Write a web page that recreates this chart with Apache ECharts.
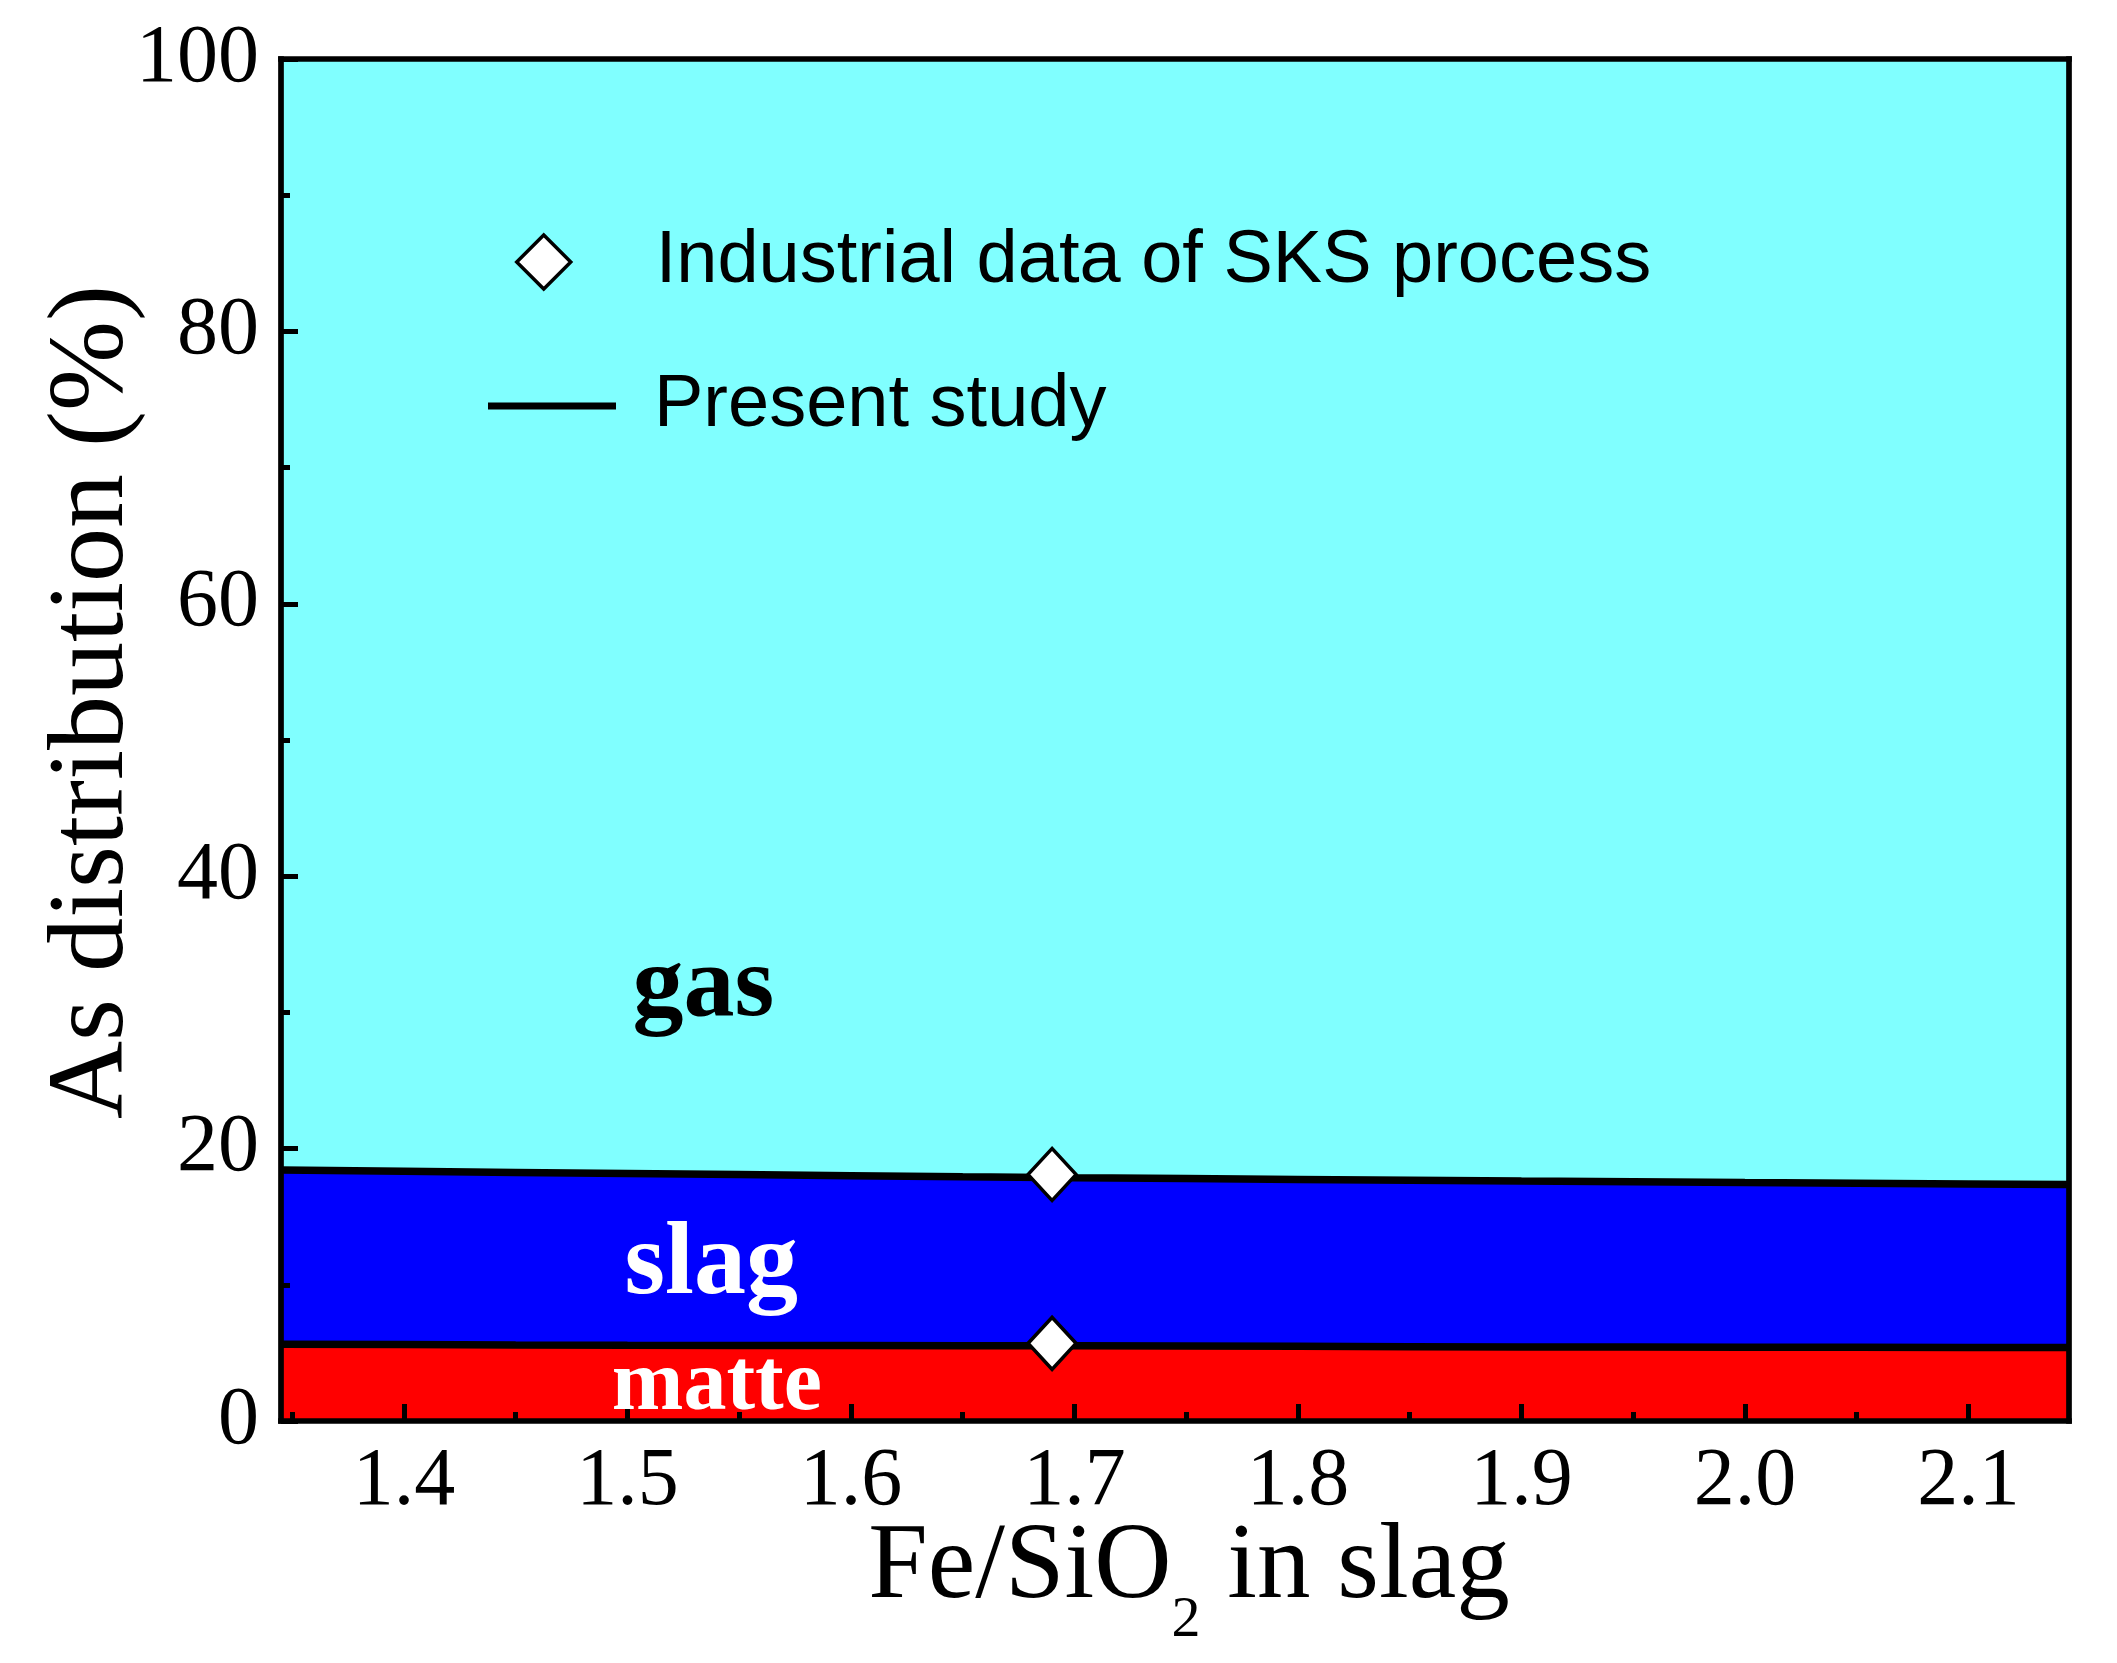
<!DOCTYPE html>
<html>
<head>
<meta charset="utf-8">
<script src="https://cdn.jsdelivr.net/npm/echarts@6/dist/echarts.min.js"></script>
<style>
html,body{margin:0;padding:0;background:#fff;}
#c{width:2117px;height:1663px;}
</style>
</head>
<body>
<div id="c"></div>
<script>
// ---- data (upper boundary of each phase region, cumulative %) ----
const feSiO2      = [1.345, 1.40, 1.45, 1.50, 1.55, 1.60, 1.65, 1.70, 1.75, 1.80, 1.85, 1.90, 1.95, 2.00, 2.05, 2.10, 2.145];
const matteUpper  = [5.64, 5.61, 5.58, 5.56, 5.55, 5.54, 5.53, 5.52, 5.50, 5.48, 5.46, 5.44, 5.43, 5.42, 5.41, 5.40, 5.40];
const slagUpper   = [18.42, 18.33, 18.25, 18.17, 18.09, 18.01, 17.93, 17.86, 17.80, 17.74, 17.68, 17.62, 17.57, 17.51, 17.46, 17.41, 17.37];
const gasUpper    = [100, 100, 100, 100, 100, 100, 100, 100, 100, 100, 100, 100, 100, 100, 100, 100, 100];
const industrialX   = [1.69, 1.69];
const industrialCum = [5.7, 18.1];
const xMajorTicks = [1.4, 1.5, 1.6, 1.7, 1.8, 1.9, 2.0, 2.1];
const xMinorTicks = [1.35, 1.45, 1.55, 1.65, 1.75, 1.85, 1.95, 2.05];
const xRange = [1.345, 2.145];
const yRange = [0, 100];
const yStep = 20;
const phaseNames = ['matte', 'slag', 'gas'];
const legendNames = ['Industrial data of SKS process', 'Present study'];

const zip = (xs, ys) => xs.map((x, i) => [x, ys[i]]);

const SERIF = '"Liberation Serif","Times New Roman",serif';
const SANS = '"Liberation Sans",Arial,sans-serif';
const AXW = 5.7;

const chart = echarts.init(document.getElementById('c'));

const frameAxis = (pos, range) => ({
  type: 'value', position: pos, min: range[0], max: range[1], z: 10,
  axisLine: {show: true, onZero: false, lineStyle: {color: '#000', width: AXW, cap: 'square'}},
  axisTick: {show: false}, axisLabel: {show: false}, splitLine: {show: false}
});

const option = {
  animation: false,
  backgroundColor: '#fff',
  grid: {left: 281, right: 48, top: 59, bottom: 242, containLabel: false},
  xAxis: [
    {
      type: 'value', position: 'bottom', min: xRange[0], max: xRange[1], z: 10,
      axisLine: {show: true, onZero: false, lineStyle: {color: '#000', width: AXW, cap: 'square'}},
      axisTick: {show: true, inside: true, length: 17, customValues: xMajorTicks, lineStyle: {color: '#000', width: 5}},
      axisLabel: {show: true, customValues: xMajorTicks, formatter: v => v.toFixed(1),
        fontSize: 82, lineHeight: 82, fontFamily: SERIF, color: '#000', margin: 20},
      splitLine: {show: false},
      name: '{a|Fe/SiO}{b|2}{a| in slag}',
      nameLocation: 'middle', nameGap: 94, nameMoveOverlap: false,
      nameTextStyle: {
        padding: [0, 0, 0, 28],
        rich: {
          a: {fontSize: 107, fontFamily: SERIF, color: '#000', lineHeight: 120, verticalAlign: 'top'},
          b: {fontSize: 58, fontFamily: SERIF, color: '#000', lineHeight: 135, verticalAlign: 'bottom'}
        }
      }
    },
    {
      type: 'value', position: 'bottom', min: xRange[0], max: xRange[1], z: 10,
      axisLine: {show: false, onZero: false},
      axisTick: {show: true, inside: true, length: 9, customValues: xMinorTicks, lineStyle: {color: '#000', width: 5}},
      axisLabel: {show: false}, splitLine: {show: false}
    },
    frameAxis('top', xRange)
  ],
  yAxis: [
    {
      type: 'value', position: 'left', min: yRange[0], max: yRange[1], interval: yStep, z: 10,
      axisLine: {show: true, onZero: false, lineStyle: {color: '#000', width: AXW, cap: 'square'}},
      axisTick: {show: true, inside: true, length: 17, lineStyle: {color: '#000', width: 5}},
      minorTick: {show: true, splitNumber: 2, length: 9, lineStyle: {color: '#000', width: 5}},
      axisLabel: {fontSize: 82, lineHeight: 82, fontFamily: SERIF, color: '#000', margin: 22},
      splitLine: {show: false},
      name: 'As distribution (%)',
      nameLocation: 'middle', nameGap: 133, nameMoveOverlap: false,
      nameTextStyle: {fontSize: 108, lineHeight: 108, fontFamily: SERIF, color: '#000', padding: [0, 0, 0, 76]}
    },
    frameAxis('right', yRange)
  ],
  legend: [
    {
      data: [{name: legendNames[0], icon: 'diamond'}],
      left: 515, top: 222, padding: 0, orient: 'vertical', selectedMode: false,
      itemWidth: 54, itemHeight: 54,
      itemStyle: {color: '#fff', borderColor: '#000', borderWidth: 3.5},
      textStyle: {fontSize: 74, lineHeight: 80, fontFamily: SANS, color: '#000', padding: [0, 0, 0, 80]}
    },
    {
      data: [{name: legendNames[1], icon: 'path://M0,0L128,0L128,7L0,7Z'}],
      left: 488, top: 366, padding: 0, orient: 'vertical', selectedMode: false,
      itemWidth: 128, itemHeight: 7,
      itemStyle: {color: '#000', borderWidth: 0},
      lineStyle: {color: '#000', width: 0},
      textStyle: {fontSize: 74, lineHeight: 80, fontFamily: SANS, color: '#000', padding: [0, 0, 0, 33]}
    }
  ],
  series: [
    {
      name: phaseNames[2], type: 'line', z: 1,
      data: zip(feSiO2, gasUpper), symbol: 'none', showSymbol: false,
      lineStyle: {width: 0, opacity: 0},
      areaStyle: {color: '#80FFFF', opacity: 1, origin: 'start'}
    },
    {
      name: legendNames[1], type: 'line', z: 2,
      data: zip(feSiO2, slagUpper), symbol: 'none', showSymbol: false,
      lineStyle: {color: '#000', width: 7.5},
      areaStyle: {color: '#0000FF', opacity: 1, origin: 'start'},
      itemStyle: {color: '#000'}
    },
    {
      name: phaseNames[0], type: 'line', z: 3,
      data: zip(feSiO2, matteUpper), symbol: 'none', showSymbol: false,
      lineStyle: {color: '#000', width: 7.5},
      areaStyle: {color: '#FF0000', opacity: 1, origin: 'start'},
      itemStyle: {color: '#000'}
    },
    {
      name: legendNames[0], type: 'scatter', z: 20,
      data: zip(industrialX, industrialCum),
      symbol: 'diamond', symbolSize: [48, 52],
      itemStyle: {color: '#fff', borderColor: '#000', borderWidth: 3.5, opacity: 1}
    }
  ]
};

chart.setOption(option);

// phase annotations placed in data coordinates
const annotations = [
  {text: 'gas',   at: [1.534, 31.76],  color: '#000', size: 102},
  {text: 'slag',  at: [1.5375, 11.34], color: '#fff', size: 104},
  {text: 'matte', at: [1.54, 2.54],    color: '#fff', size: 86}
];
const graphics = annotations.map(a => {
  const p = chart.convertToPixel({xAxisIndex: 0, yAxisIndex: 0}, a.at);
  return {
    type: 'text', x: p[0], y: p[1], z: 50,
    style: {text: a.text, fill: a.color, fontSize: a.size, fontWeight: 'bold', fontFamily: SERIF,
            lineHeight: a.size, align: 'center', verticalAlign: 'middle'}
  };
});
chart.setOption({graphic: graphics});
</script>
</body>
</html>
